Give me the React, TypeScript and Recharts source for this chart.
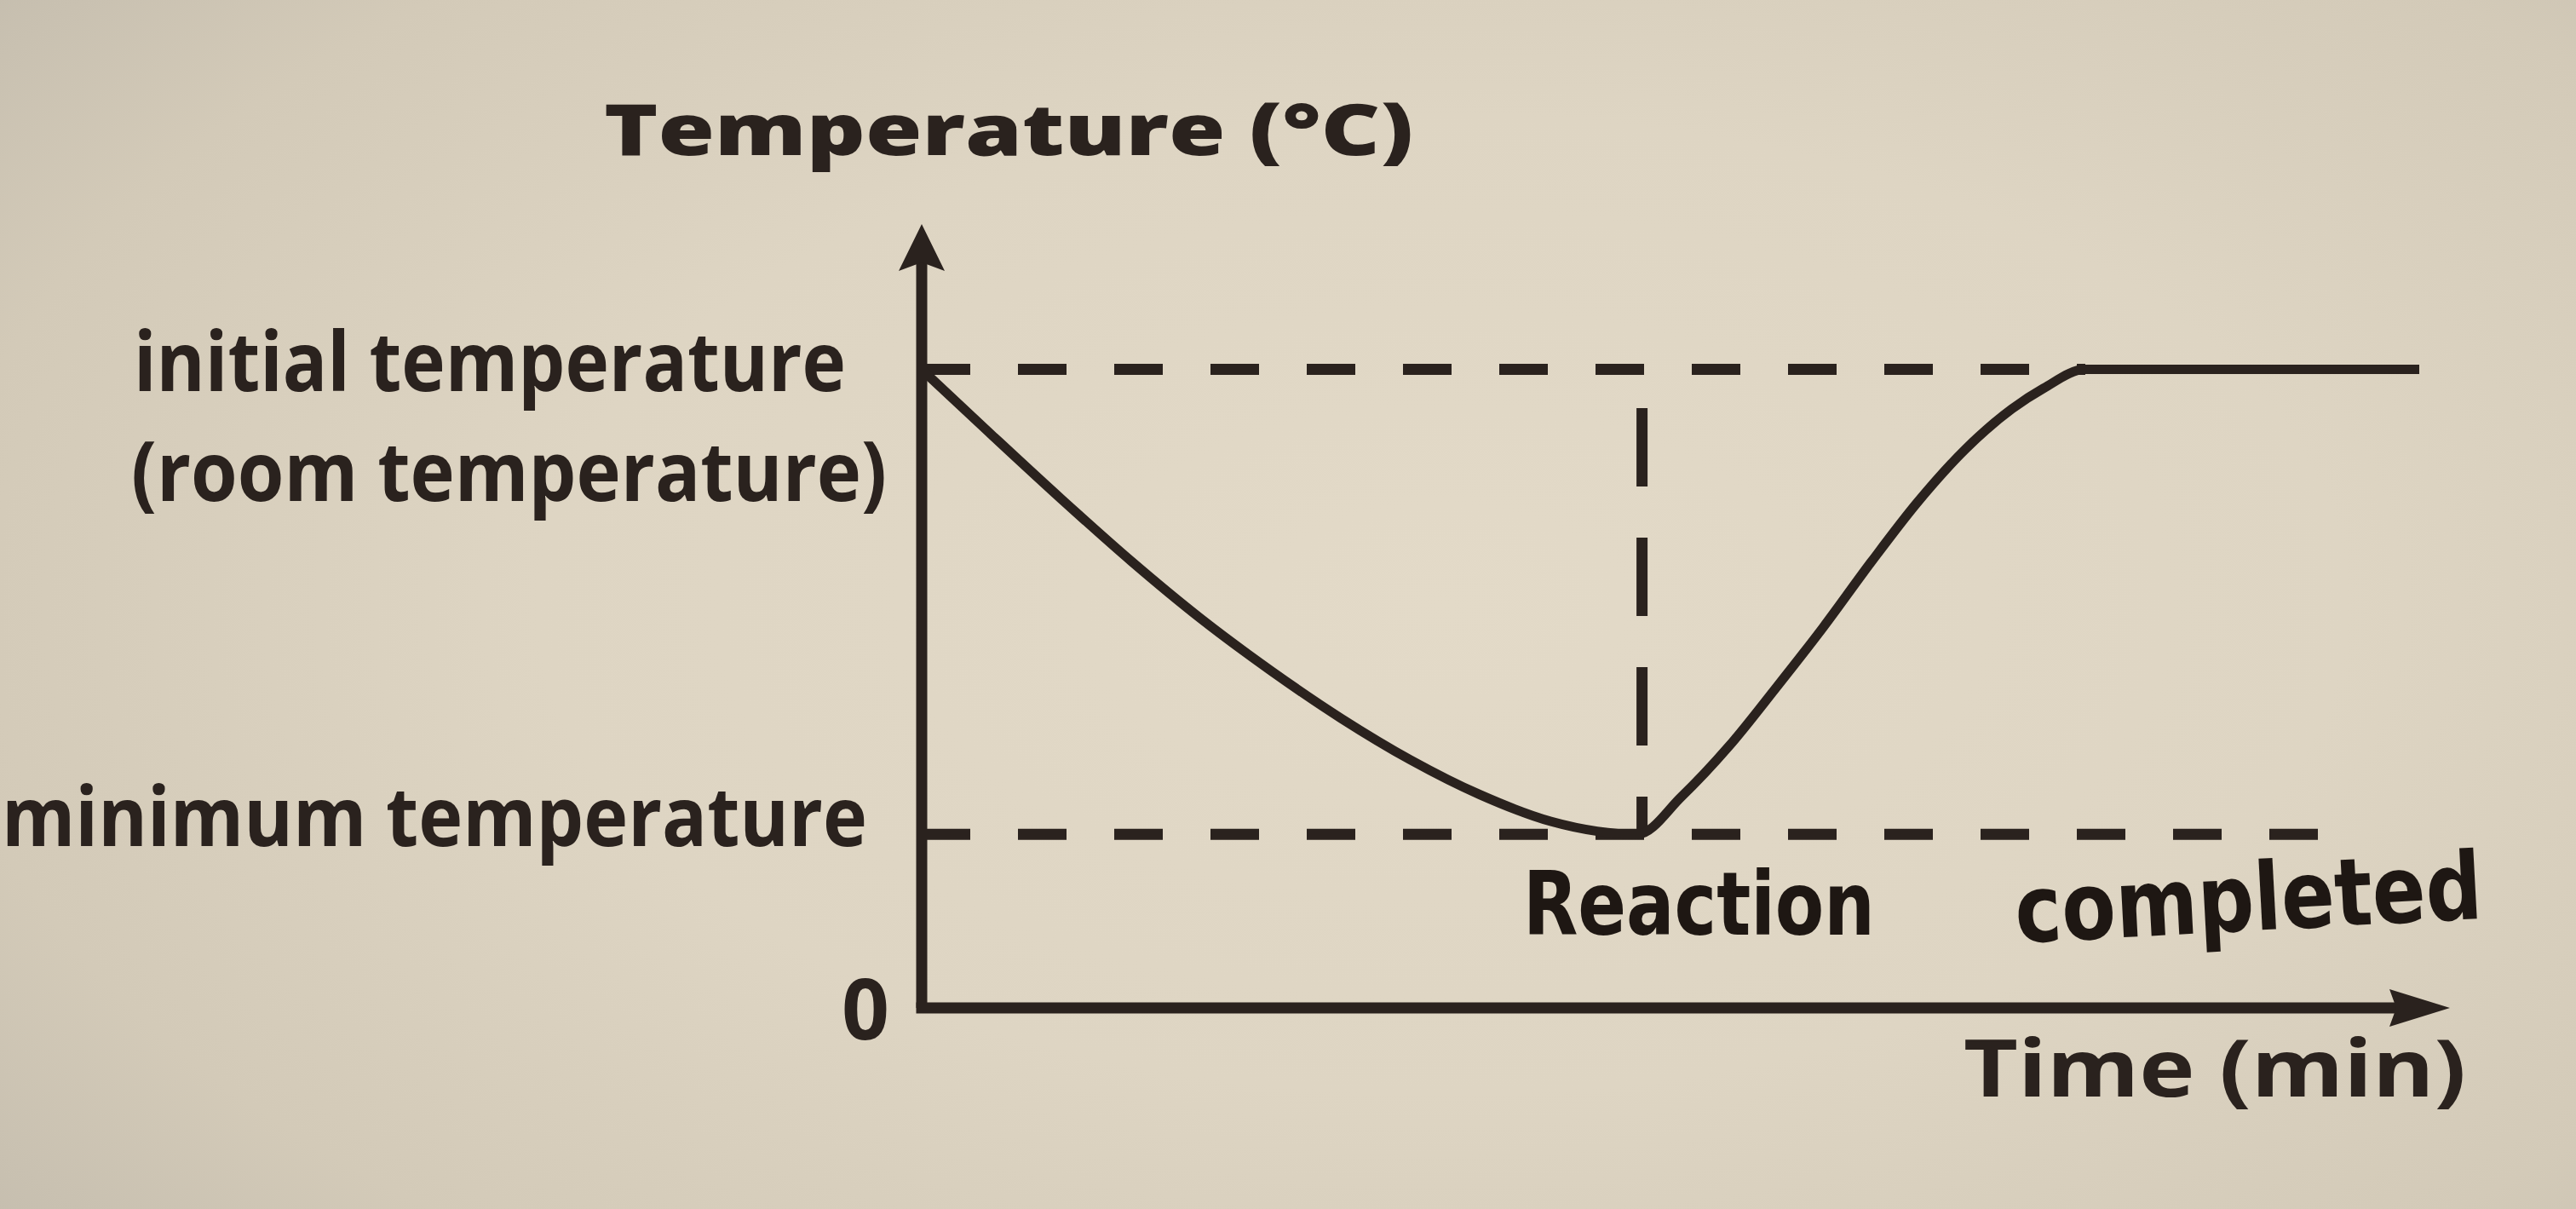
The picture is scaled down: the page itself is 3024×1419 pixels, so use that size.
import React from 'react';
import { LineChart, Line, XAxis, YAxis, ReferenceLine, ReferenceDot } from 'recharts';

// ---- data ----
const timeValues = [
  0, 4.66, 9.33, 14.0, 18.66, 23.3, 28.0, 32.65, 37.3, 42.0, 45.1, 47.8,
  50.75, 53.9, 57.0, 60.2, 63.4, 66.5, 69.7, 72.8, 74.9, 77.7, 100,
];
const temperatureValues = [
  84.2, 75.6, 67.1, 58.9, 51.3, 44.5, 38.2, 32.7, 28.1, 24.6, 23.3, 22.9,
  27.9, 34.5, 42.1, 50.2, 58.8, 66.7, 73.7, 79.0, 81.7, 84.2, 84.2,
];

const INITIAL_TEMP = 84.2;
const MIN_TEMP = 22.9;
const REACTION_MARK_TIME = 48.1;
const REACTION_MARK_TOP = 79.1;
const INITIAL_LINE_END = 77.7;
const MIN_LINE_END = 93.5;

const yTickValues = [0, MIN_TEMP, INITIAL_TEMP];
const yTickLabels = [['0'], ['minimum temperature'], ['initial temperature', '(room temperature)']];

const xAxisTitle = 'Time (min)';
const yAxisTitle = 'Temperature (°C)';

const annotationTimes = [51.9, 88.7];
const annotationTemps = [9.7, 10.2];
const annotationTexts = ['Reaction', 'completed'];

const chartData = timeValues.map((t, i) => ({ time: t, temp: temperatureValues[i] }));

// ---- styles ----
const INK = '#2a221e';
const PEN = '#1e1713';
const FONT = '"Open Sans", "Noto Sans", sans-serif';
const HAND = '"DejaVu Sans Condensed", "DejaVu Sans", sans-serif';

const tickStyles = [
  [{ dx: -38, dy: 37, len: 56 }],
  [{ dx: -64, dy: 14, len: 1016 }],
  [
    { dx: -89, dy: 25, len: 836 },
    { dx: -41, dy: 154, len: 887 },
  ],
];

const YTick = (props: any) => {
  const { x, y, payload } = props;
  let idx = 0;
  let best = Infinity;
  yTickValues.forEach((v, i) => {
    const d = Math.abs(v - payload.value);
    if (d < best) {
      best = d;
      idx = i;
    }
  });
  const lines = yTickLabels[idx];
  const st = tickStyles[idx];
  return (
    <g>
      {lines.map((txt, j) => (
        <text
          key={j}
          x={x + st[j].dx}
          y={y + st[j].dy}
          textAnchor="end"
          fontFamily={FONT}
          fontWeight={700}
          fontSize={idx === 0 ? 98 : 96}
          fill={INK}
          textLength={st[j].len}
          lengthAdjust="spacingAndGlyphs"
        >
          {txt}
        </text>
      ))}
    </g>
  );
};

const YTitle = (props: any) => {
  const vb = props.viewBox || { x: 0, y: 293, width: 1082, height: 890 };
  return (
    <text
      x={vb.x + vb.width - 373}
      y={vb.y - 111}
      fontFamily={FONT}
      fontWeight={800}
      fontSize={84}
      fill={INK}
      textLength={950}
      lengthAdjust="spacingAndGlyphs"
    >
      {yAxisTitle}
    </text>
  );
};

const XTitle = (props: any) => {
  const vb = props.viewBox || { x: 1082, y: 1183, width: 1758, height: 236 };
  return (
    <text
      x={vb.x + vb.width + 55}
      y={vb.y + 104}
      textAnchor="end"
      fontFamily={FONT}
      fontWeight={700}
      fontSize={94}
      fill={INK}
      textLength={590}
      lengthAdjust="spacingAndGlyphs"
    >
      {xAxisTitle}
    </text>
  );
};

const makeNote = (i: number) => (props: any) => {
  const vb = props.viewBox || { x: 0, y: 0, width: 0, height: 0 };
  const cx = vb.x + vb.width / 2;
  const cy = vb.y + vb.height / 2;
  const lens = [413, 549];
  const rot = [0, -3];
  return (
    <text
      x={cx}
      y={cy}
      textAnchor="middle"
      fontFamily={HAND}
      fontWeight={700}
      fontSize={i === 0 ? 104 : 110}
      fill={PEN}
      textLength={lens[i]}
      lengthAdjust="spacingAndGlyphs"
      transform={`rotate(${rot[i]} ${cx} ${cy})`}
    >
      {annotationTexts[i]}
    </text>
  );
};

export default function App() {
  return (
    <div
      style={{
        position: 'absolute',
        left: 0,
        top: 0,
        width: 3024,
        height: 1419,
        overflow: 'hidden',
        background:
          'radial-gradient(ellipse 78% 90% at 56% 50%, #e3dac8 0%, #ded5c3 45%, #d3cab8 75%, #bfb8aa 100%)',
      }}
    >
      <svg width={0} height={0} style={{ position: 'absolute' }}>
        <defs>
          <marker
            id="arrowY"
            viewBox="-30 -30 62 60"
            refX={0}
            refY={0}
            markerWidth={62}
            markerHeight={60}
            markerUnits="userSpaceOnUse"
            orient="auto-start-reverse"
          >
            <path d="M30,0 L-25,-27 L-15,0 L-25,27 Z" fill={INK} />
          </marker>
          <marker
            id="arrowX"
            viewBox="-40 -25 80 50"
            refX={0}
            refY={0}
            markerWidth={80}
            markerHeight={50}
            markerUnits="userSpaceOnUse"
            orient="auto"
          >
            <path d="M36,0 L-35,-22 L-27,0 L-35,22 Z" fill={INK} />
          </marker>
        </defs>
      </svg>
      <LineChart
        width={3024}
        height={1419}
        data={chartData}
        margin={{ top: 293, right: 184, bottom: 0, left: 0 }}
      >
        <XAxis
          dataKey="time"
          type="number"
          domain={[0, 100]}
          height={236}
          tick={false}
          tickLine={false}
          axisLine={{ stroke: INK, strokeWidth: 13, strokeLinecap: 'square', markerEnd: 'url(#arrowX)' }}
          label={XTitle}
        />
        <YAxis
          type="number"
          domain={[0, 100]}
          width={1082}
          ticks={yTickValues}
          interval={0}
          tick={YTick}
          tickLine={false}
          tickSize={0}
          tickMargin={0}
          axisLine={{ stroke: INK, strokeWidth: 13, markerStart: 'url(#arrowY)' }}
          label={YTitle}
        />
        <ReferenceLine
          segment={[
            { x: 0, y: INITIAL_TEMP },
            { x: INITIAL_LINE_END, y: INITIAL_TEMP },
          ]}
          stroke={INK}
          strokeWidth={13}
          strokeDasharray="57 56"
        />
        <ReferenceLine
          segment={[
            { x: 0, y: MIN_TEMP },
            { x: MIN_LINE_END, y: MIN_TEMP },
          ]}
          stroke={INK}
          strokeWidth={13}
          strokeDasharray="57 56"
        />
        <ReferenceLine
          segment={[
            { x: REACTION_MARK_TIME, y: REACTION_MARK_TOP },
            { x: REACTION_MARK_TIME, y: MIN_TEMP },
          ]}
          stroke={INK}
          strokeWidth={13}
          strokeDasharray="92 60"
        />
        <Line
          type="monotone"
          dataKey="temp"
          stroke={INK}
          strokeWidth={11}
          strokeLinejoin="round"
          dot={false}
          activeDot={false}
          isAnimationActive={false}
        />
        {annotationTexts.map((t, i) => (
          <ReferenceDot
            key={t}
            x={annotationTimes[i]}
            y={annotationTemps[i]}
            r={1}
            fill="none"
            stroke="none"
            label={makeNote(i)}
          />
        ))}
      </LineChart>
    </div>
  );
}
